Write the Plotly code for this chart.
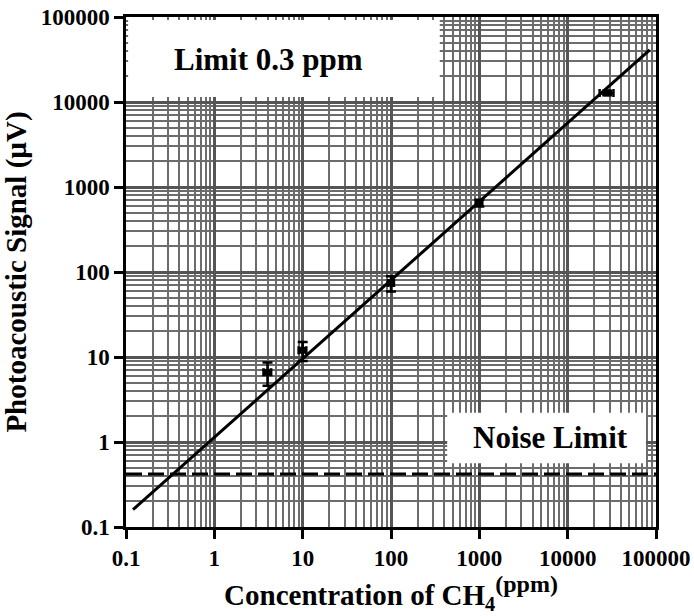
import plotly.graph_objects as go

conc = [4, 10, 100, 1000, 28000]            # ppm CH4
signal = [6.6, 12, 74, 650, 12800]          # µV
signal_err = [2.0, 3.0, 15, 60, 800]
conc_err = [0.4, 1.0, 8, 80, 5000]

# Fitted line end points
fit_x = [0.12, 85000]
fit_y = [0.16, 41000]

# Noise limit level
noise_x = [0.1, 100000]
noise_y = [0.42, 0.42]

tick_vals = [0.1, 1, 10, 100, 1000, 10000, 100000]
tick_text = ["0.1", "1", "10", "100", "1000", "10000", "100000"]

FONT = "Liberation Serif"

fig = go.Figure()

fig.add_trace(go.Scatter(
    x=noise_x, y=noise_y, mode="lines",
    line=dict(color="black", width=3, dash="16px,6px"),
    showlegend=False, hoverinfo="skip"))

fig.add_trace(go.Scatter(
    x=fit_x, y=fit_y, mode="lines",
    line=dict(color="black", width=3),
    showlegend=False))

fig.add_trace(go.Scatter(
    x=conc, y=signal, mode="markers",
    marker=dict(color="black", size=7, symbol="square"),
    error_y=dict(type="data", array=signal_err, color="black", thickness=2.5, width=5),
    error_x=dict(type="data", array=conc_err, color="black", thickness=2.5, width=4),
    showlegend=False))

axis_common = dict(
    type="log",
    tickvals=tick_vals, ticktext=tick_text,
    showline=True, linecolor="black", linewidth=2.5, mirror=True,
    ticks="outside", ticklen=9, tickwidth=2.5, tickcolor="black",
    showgrid=True, gridcolor="#555555", gridwidth=2.5,
    minor=dict(showgrid=True, gridcolor="#6c6c6c", gridwidth=1.5, dtick="D1", ticks=""),
    tickfont=dict(family=FONT, size=23, color="black", weight="bold"),
    zeroline=False,
    automargin=False,
)

fig.update_xaxes(
    **axis_common,
    range=[-1, 5],
    title=dict(text="<b>Concentration of CH<sub>4</sub><sup><span style='font-size:24px'>(ppm)</span></sup></b>",
               font=dict(family=FONT, size=29, color="black"), standoff=6),
)
fig.update_yaxes(
    **axis_common,
    range=[-1, 5],
    title=dict(text="<b>Photoacoustic Signal (µV)</b>",
               font=dict(family=FONT, size=29, color="black"), standoff=8),
)

# white label boxes
fig.add_shape(type="rect", xref="paper", yref="paper", x0=0.004, x1=0.592, y0=0.843, y1=0.994,
              fillcolor="white", line=dict(width=0), layer="above")
fig.add_shape(type="rect", xref="paper", yref="paper", x0=0.606, x1=0.981, y0=0.125, y1=0.224,
              fillcolor="white", line=dict(width=0), layer="above")

fig.add_annotation(xref="paper", yref="paper", x=0.268, y=0.916, xanchor="center", yanchor="middle",
                   text="<b>Limit 0.3 ppm</b>",
                   showarrow=False, font=dict(family=FONT, size=31, color="black"))
fig.add_annotation(xref="paper", yref="paper", x=0.80, y=0.176, xanchor="center", yanchor="middle",
                   text="<b>Noise Limit</b>",
                   showarrow=False, font=dict(family=FONT, size=31, color="black"))

fig.update_layout(
    width=694, height=616,
    margin=dict(l=126, r=38, t=17, b=89),
    paper_bgcolor="white", plot_bgcolor="white",
    font=dict(family=FONT, color="black"),
)

fig.write_html("out.html")
